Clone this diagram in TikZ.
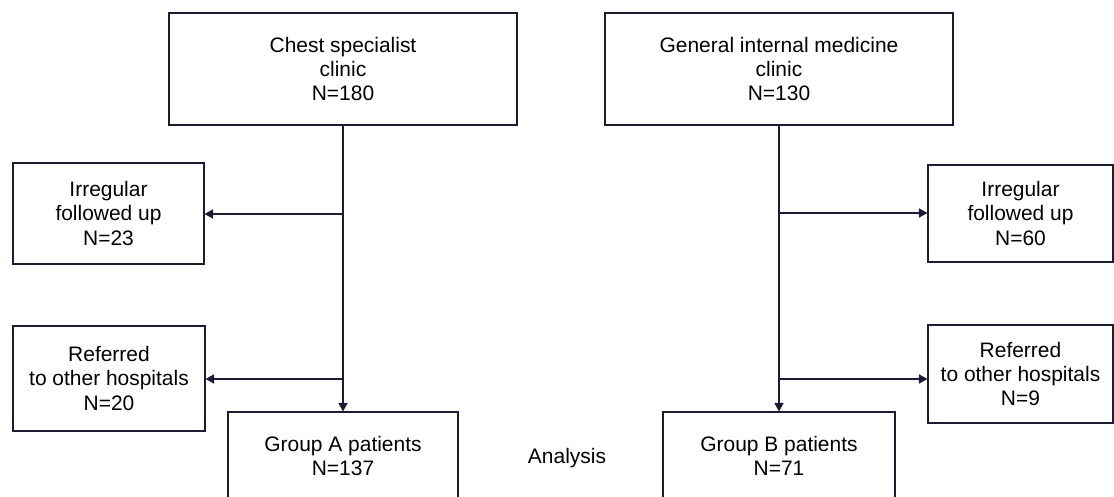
\documentclass[tikz,border=0pt]{standalone}
\usepackage{fontspec}
\setmainfont{Liberation Sans}
\usetikzlibrary{
	arrows.meta,
	calc,
}
\definecolor{linecol}{HTML}{1C1C3A}
\tikzset{box node/.style={
	draw=linecol,
	rectangle,
	align=center,
	inner sep=0mm,
	line width=0.8pt,
	font=\fontsize{14.9}{17.1}\selectfont,
}}
\tikzset{flow/.style={
	draw=linecol,
	line width=0.8pt,
	-{Triangle[length=6pt,width=6.5pt]},
}}

\begin{document}
\begin{tikzpicture}[x=0.025cm,y=-0.025cm]
\useasboundingbox (0,0) rectangle (1114,497);

% clinics
\node[box node, minimum width=8.7cm, minimum height=2.8cm] (chest) at (343,69) {Chest specialist\\clinic\\N=180};
\node[box node, minimum width=8.7cm, minimum height=2.8cm] (general) at (779,69) {General internal medicine\\clinic\\N=130};

% drop outs
\node[box node, minimum width=4.775cm, minimum height=2.525cm] (irrA) at (108.5,213.5) {Irregular\\followed up\\N=23};
\node[box node, minimum width=4.8cm, minimum height=2.625cm] (refA) at (109,378.5) {Referred\\to other hospitals\\N=20};
\node[box node, minimum width=4.625cm, minimum height=2.425cm] (irrB) at (1020.5,213.5) {Irregular\\followed up\\N=60};
\node[box node, minimum width=4.625cm, minimum height=2.45cm] (refB) at (1020.5,374) {Referred\\to other hospitals\\N=9};

% groups
\node[box node, minimum width=5.75cm, minimum height=2.1875cm] (groupA) at (343,455.75) {Group A patients\\N=137};
\node[box node, minimum width=5.8cm, minimum height=2.1875cm] (groupB) at (779,455.75) {Group B patients\\N=71};
\node[inner sep=0mm, font=\fontsize{14.9}{17.1}\selectfont] (analysis) at (567,458) {Analysis};

\foreach \s \g in {
	chest/groupA%
	,general/groupB%
}{
	\draw[flow] (\s.south) -- (\s.south |- \g.north);
}

\coordinate (a1) at (343,214);
\coordinate (a2) at (343,379);
\coordinate (b1) at (779,213);
\coordinate (b2) at (779,379);

\foreach \c \t \a in {
	a1/irrA/east,a2/refA/east%
	,b1/irrB/west,b2/refB/west%
}{
	\draw[flow] (\c) -- (\c -| \t.\a);
}

\end{tikzpicture}
\end{document}
